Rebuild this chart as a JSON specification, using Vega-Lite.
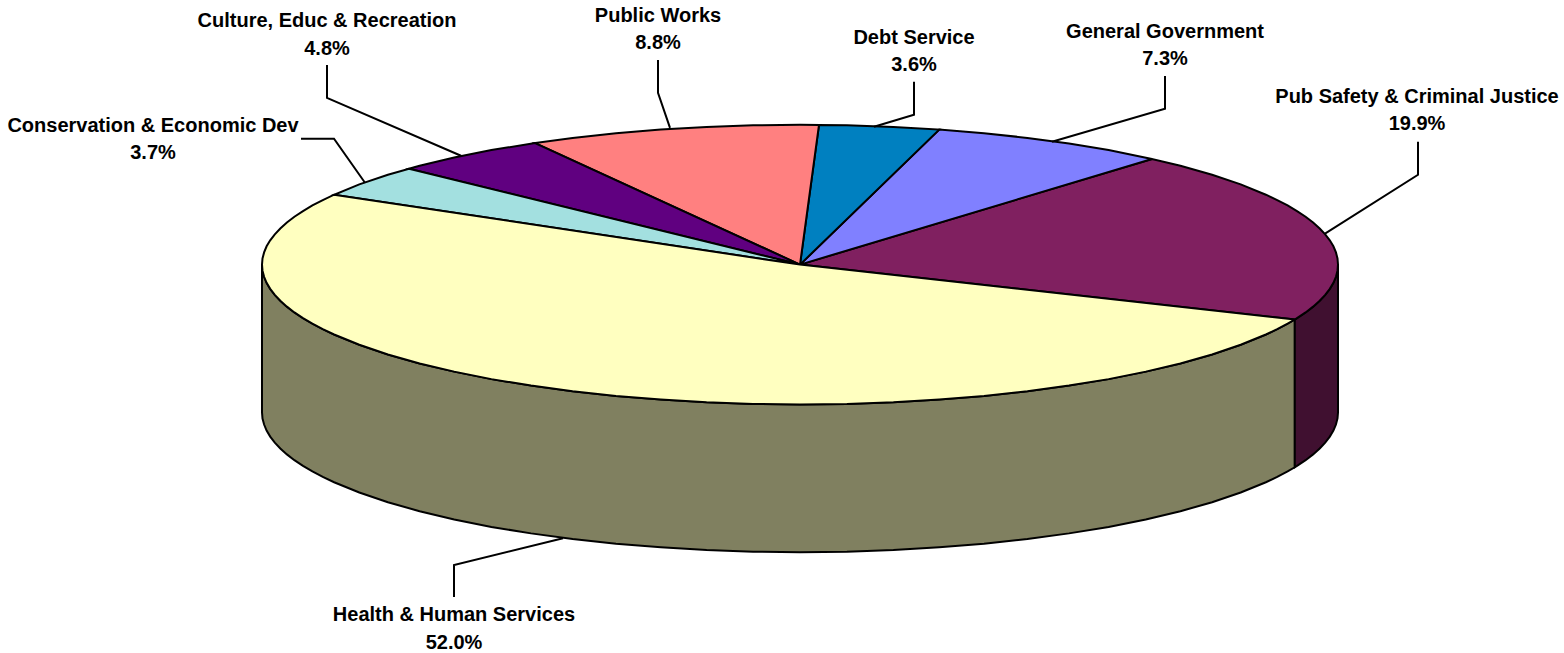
{
"$schema":"https://vega.github.io/schema/vega-lite/v6.json",
"width":1564,"height":653,"padding":0,"autosize":{"type":"fit","contains":"padding"},"background":"white",
"config":{"view":{"stroke":null}},
"resolve":{"scale":{"fill":"independent"}},
"datasets":{
"walls":[
{"side":"Health & Human Services","x":262,"top":265,"bottom":413},
{"side":"Health & Human Services","x":262.5,"top":271.1,"bottom":419.1},
{"side":"Health & Human Services","x":264.1,"top":277.2,"bottom":425.2},
{"side":"Health & Human Services","x":266.6,"top":283.3,"bottom":431.3},
{"side":"Health & Human Services","x":270.2,"top":289.3,"bottom":437.3},
{"side":"Health & Human Services","x":274.8,"top":295.3,"bottom":443.3},
{"side":"Health & Human Services","x":280.3,"top":301.2,"bottom":449.2},
{"side":"Health & Human Services","x":286.9,"top":307.1,"bottom":455.1},
{"side":"Health & Human Services","x":294.4,"top":312.9,"bottom":460.9},
{"side":"Health & Human Services","x":303,"top":318.6,"bottom":466.6},
{"side":"Health & Human Services","x":312.4,"top":324.2,"bottom":472.2},
{"side":"Health & Human Services","x":322.8,"top":329.6,"bottom":477.6},
{"side":"Health & Human Services","x":334.1,"top":335,"bottom":483},
{"side":"Health & Human Services","x":359.3,"top":345.3,"bottom":493.3},
{"side":"Health & Human Services","x":387.9,"top":355,"bottom":503},
{"side":"Health & Human Services","x":419.6,"top":364,"bottom":512},
{"side":"Health & Human Services","x":454.2,"top":372.2,"bottom":520.2},
{"side":"Health & Human Services","x":491.4,"top":379.7,"bottom":527.7},
{"side":"Health & Human Services","x":531,"top":386.2,"bottom":534.2},
{"side":"Health & Human Services","x":572.6,"top":391.9,"bottom":539.9},
{"side":"Health & Human Services","x":616,"top":396.6,"bottom":544.6},
{"side":"Health & Human Services","x":660.8,"top":400.2,"bottom":548.2},
{"side":"Health & Human Services","x":706.6,"top":402.9,"bottom":550.9},
{"side":"Health & Human Services","x":753.1,"top":404.5,"bottom":552.5},
{"side":"Health & Human Services","x":800,"top":405,"bottom":553},
{"side":"Health & Human Services","x":846.9,"top":404.5,"bottom":552.5},
{"side":"Health & Human Services","x":893.4,"top":402.9,"bottom":550.9},
{"side":"Health & Human Services","x":939.2,"top":400.2,"bottom":548.2},
{"side":"Health & Human Services","x":984,"top":396.6,"bottom":544.6},
{"side":"Health & Human Services","x":1027.4,"top":391.9,"bottom":539.9},
{"side":"Health & Human Services","x":1069,"top":386.2,"bottom":534.2},
{"side":"Health & Human Services","x":1108.6,"top":379.7,"bottom":527.7},
{"side":"Health & Human Services","x":1145.8,"top":372.2,"bottom":520.2},
{"side":"Health & Human Services","x":1180.4,"top":364,"bottom":512},
{"side":"Health & Human Services","x":1212.1,"top":355,"bottom":503},
{"side":"Health & Human Services","x":1240.7,"top":345.3,"bottom":493.3},
{"side":"Health & Human Services","x":1265.9,"top":335,"bottom":483},
{"side":"Health & Human Services","x":1277.2,"top":329.6,"bottom":477.6},
{"side":"Health & Human Services","x":1287.6,"top":324.2,"bottom":472.2},
{"side":"Health & Human Services","x":1294.8,"top":320,"bottom":468},
{"side":"Pub Safety & Criminal Justice","x":1294.8,"top":320,"bottom":468},
{"side":"Pub Safety & Criminal Justice","x":1297,"top":318.6,"bottom":466.6},
{"side":"Pub Safety & Criminal Justice","x":1305.6,"top":312.9,"bottom":460.9},
{"side":"Pub Safety & Criminal Justice","x":1313.1,"top":307.1,"bottom":455.1},
{"side":"Pub Safety & Criminal Justice","x":1319.7,"top":301.2,"bottom":449.2},
{"side":"Pub Safety & Criminal Justice","x":1325.2,"top":295.3,"bottom":443.3},
{"side":"Pub Safety & Criminal Justice","x":1329.8,"top":289.3,"bottom":437.3},
{"side":"Pub Safety & Criminal Justice","x":1333.4,"top":283.3,"bottom":431.3},
{"side":"Pub Safety & Criminal Justice","x":1335.95,"top":277.2,"bottom":425.2},
{"side":"Pub Safety & Criminal Justice","x":1337.5,"top":271.1,"bottom":419.1},
{"side":"Pub Safety & Criminal Justice","x":1338,"top":265,"bottom":413}
],
"slices":[
{"slice":"Pub Safety & Criminal Justice","i":0,"x":800,"y":265},
{"slice":"Pub Safety & Criminal Justice","i":1,"x":1294.8,"y":320},
{"slice":"Pub Safety & Criminal Justice","i":1.5,"x":1297,"y":318.6},
{"slice":"Pub Safety & Criminal Justice","i":2,"x":1305.6,"y":312.9},
{"slice":"Pub Safety & Criminal Justice","i":2.5,"x":1313.1,"y":307.1},
{"slice":"Pub Safety & Criminal Justice","i":3,"x":1319.7,"y":301.2},
{"slice":"Pub Safety & Criminal Justice","i":3.5,"x":1325.2,"y":295.3},
{"slice":"Pub Safety & Criminal Justice","i":4,"x":1329.8,"y":289.3},
{"slice":"Pub Safety & Criminal Justice","i":4.5,"x":1333.4,"y":283.3},
{"slice":"Pub Safety & Criminal Justice","i":5,"x":1335.95,"y":277.2},
{"slice":"Pub Safety & Criminal Justice","i":5.5,"x":1337.5,"y":271.1},
{"slice":"Pub Safety & Criminal Justice","i":6,"x":1338,"y":265},
{"slice":"Pub Safety & Criminal Justice","i":6.5,"x":1337.5,"y":258.9},
{"slice":"Pub Safety & Criminal Justice","i":7,"x":1335.95,"y":252.8},
{"slice":"Pub Safety & Criminal Justice","i":7.5,"x":1333.4,"y":246.7},
{"slice":"Pub Safety & Criminal Justice","i":8,"x":1329.8,"y":240.7},
{"slice":"Pub Safety & Criminal Justice","i":8.5,"x":1325.2,"y":234.7},
{"slice":"Pub Safety & Criminal Justice","i":9,"x":1319.7,"y":228.8},
{"slice":"Pub Safety & Criminal Justice","i":9.5,"x":1313.1,"y":222.9},
{"slice":"Pub Safety & Criminal Justice","i":10,"x":1305.6,"y":217.1},
{"slice":"Pub Safety & Criminal Justice","i":10.5,"x":1297,"y":211.4},
{"slice":"Pub Safety & Criminal Justice","i":11,"x":1287.6,"y":205.8},
{"slice":"Pub Safety & Criminal Justice","i":11.5,"x":1277.2,"y":200.4},
{"slice":"Pub Safety & Criminal Justice","i":12,"x":1265.9,"y":195},
{"slice":"Pub Safety & Criminal Justice","i":13,"x":1240.7,"y":184.7},
{"slice":"Pub Safety & Criminal Justice","i":14,"x":1212.1,"y":175},
{"slice":"Pub Safety & Criminal Justice","i":15,"x":1180.4,"y":166},
{"slice":"Pub Safety & Criminal Justice","i":16,"x":1152,"y":159.2},
{"slice":"General Government","i":0,"x":800,"y":265},
{"slice":"General Government","i":1,"x":1152,"y":159.2},
{"slice":"General Government","i":2,"x":1108.6,"y":150.3},
{"slice":"General Government","i":3,"x":1069,"y":143.8},
{"slice":"General Government","i":4,"x":1027.4,"y":138.1},
{"slice":"General Government","i":5,"x":984,"y":133.4},
{"slice":"General Government","i":6,"x":939.2,"y":129.8},
{"slice":"Debt Service","i":0,"x":800,"y":265},
{"slice":"Debt Service","i":1,"x":939.2,"y":129.8},
{"slice":"Debt Service","i":2,"x":893.4,"y":127.1},
{"slice":"Debt Service","i":3,"x":846.9,"y":125.5},
{"slice":"Debt Service","i":4,"x":819,"y":125.1},
{"slice":"Public Works","i":0,"x":800,"y":265},
{"slice":"Public Works","i":1,"x":819,"y":125.1},
{"slice":"Public Works","i":2,"x":800,"y":125},
{"slice":"Public Works","i":3,"x":753.1,"y":125.5},
{"slice":"Public Works","i":4,"x":706.6,"y":127.1},
{"slice":"Public Works","i":5,"x":660.8,"y":129.8},
{"slice":"Public Works","i":6,"x":616,"y":133.4},
{"slice":"Public Works","i":7,"x":572.6,"y":138.1},
{"slice":"Public Works","i":8,"x":535,"y":143.3},
{"slice":"Culture, Educ & Recreation","i":0,"x":800,"y":265},
{"slice":"Culture, Educ & Recreation","i":1,"x":535,"y":143.3},
{"slice":"Culture, Educ & Recreation","i":2,"x":491.4,"y":150.3},
{"slice":"Culture, Educ & Recreation","i":3,"x":454.2,"y":157.8},
{"slice":"Culture, Educ & Recreation","i":4,"x":419.6,"y":166},
{"slice":"Culture, Educ & Recreation","i":5,"x":409,"y":169},
{"slice":"Conservation & Economic Dev","i":0,"x":800,"y":265},
{"slice":"Conservation & Economic Dev","i":1,"x":409,"y":169},
{"slice":"Conservation & Economic Dev","i":2,"x":387.9,"y":175},
{"slice":"Conservation & Economic Dev","i":3,"x":359.3,"y":184.7},
{"slice":"Conservation & Economic Dev","i":4,"x":334.1,"y":195},
{"slice":"Health & Human Services","i":0,"x":800,"y":265},
{"slice":"Health & Human Services","i":1,"x":334.1,"y":195},
{"slice":"Health & Human Services","i":1.5,"x":322.8,"y":200.4},
{"slice":"Health & Human Services","i":2,"x":312.4,"y":205.8},
{"slice":"Health & Human Services","i":2.5,"x":303,"y":211.4},
{"slice":"Health & Human Services","i":3,"x":294.4,"y":217.1},
{"slice":"Health & Human Services","i":3.5,"x":286.9,"y":222.9},
{"slice":"Health & Human Services","i":4,"x":280.3,"y":228.8},
{"slice":"Health & Human Services","i":4.5,"x":274.8,"y":234.7},
{"slice":"Health & Human Services","i":5,"x":270.2,"y":240.7},
{"slice":"Health & Human Services","i":5.5,"x":266.6,"y":246.7},
{"slice":"Health & Human Services","i":6,"x":264.1,"y":252.8},
{"slice":"Health & Human Services","i":6.5,"x":262.5,"y":258.9},
{"slice":"Health & Human Services","i":7,"x":262,"y":265},
{"slice":"Health & Human Services","i":7.5,"x":262.5,"y":271.1},
{"slice":"Health & Human Services","i":8,"x":264.1,"y":277.2},
{"slice":"Health & Human Services","i":8.5,"x":266.6,"y":283.3},
{"slice":"Health & Human Services","i":9,"x":270.2,"y":289.3},
{"slice":"Health & Human Services","i":9.5,"x":274.8,"y":295.3},
{"slice":"Health & Human Services","i":10,"x":280.3,"y":301.2},
{"slice":"Health & Human Services","i":10.5,"x":286.9,"y":307.1},
{"slice":"Health & Human Services","i":11,"x":294.4,"y":312.9},
{"slice":"Health & Human Services","i":11.5,"x":303,"y":318.6},
{"slice":"Health & Human Services","i":12,"x":312.4,"y":324.2},
{"slice":"Health & Human Services","i":12.5,"x":322.8,"y":329.6},
{"slice":"Health & Human Services","i":13,"x":334.1,"y":335},
{"slice":"Health & Human Services","i":14,"x":359.3,"y":345.3},
{"slice":"Health & Human Services","i":15,"x":387.9,"y":355},
{"slice":"Health & Human Services","i":16,"x":419.6,"y":364},
{"slice":"Health & Human Services","i":17,"x":454.2,"y":372.2},
{"slice":"Health & Human Services","i":18,"x":491.4,"y":379.7},
{"slice":"Health & Human Services","i":19,"x":531,"y":386.2},
{"slice":"Health & Human Services","i":20,"x":572.6,"y":391.9},
{"slice":"Health & Human Services","i":21,"x":616,"y":396.6},
{"slice":"Health & Human Services","i":22,"x":660.8,"y":400.2},
{"slice":"Health & Human Services","i":23,"x":706.6,"y":402.9},
{"slice":"Health & Human Services","i":24,"x":753.1,"y":404.5},
{"slice":"Health & Human Services","i":25,"x":800,"y":405},
{"slice":"Health & Human Services","i":26,"x":846.9,"y":404.5},
{"slice":"Health & Human Services","i":27,"x":893.4,"y":402.9},
{"slice":"Health & Human Services","i":28,"x":939.2,"y":400.2},
{"slice":"Health & Human Services","i":29,"x":984,"y":396.6},
{"slice":"Health & Human Services","i":30,"x":1027.4,"y":391.9},
{"slice":"Health & Human Services","i":31,"x":1069,"y":386.2},
{"slice":"Health & Human Services","i":32,"x":1108.6,"y":379.7},
{"slice":"Health & Human Services","i":33,"x":1145.8,"y":372.2},
{"slice":"Health & Human Services","i":34,"x":1180.4,"y":364},
{"slice":"Health & Human Services","i":35,"x":1212.1,"y":355},
{"slice":"Health & Human Services","i":36,"x":1240.7,"y":345.3},
{"slice":"Health & Human Services","i":37,"x":1265.9,"y":335},
{"slice":"Health & Human Services","i":37.5,"x":1277.2,"y":329.6},
{"slice":"Health & Human Services","i":38,"x":1287.6,"y":324.2},
{"slice":"Health & Human Services","i":39,"x":1294.8,"y":320}
],
"leaders":[
{"slice":"Health & Human Services","i":0,"x":563,"y":539},
{"slice":"Health & Human Services","i":1,"x":454,"y":566},
{"slice":"Health & Human Services","i":2,"x":454,"y":598},
{"slice":"Pub Safety & Criminal Justice","i":0,"x":1325,"y":234},
{"slice":"Pub Safety & Criminal Justice","i":1,"x":1418,"y":175},
{"slice":"Pub Safety & Criminal Justice","i":2,"x":1418,"y":142},
{"slice":"General Government","i":0,"x":1052,"y":142},
{"slice":"General Government","i":1,"x":1165,"y":109},
{"slice":"General Government","i":2,"x":1165,"y":76},
{"slice":"Debt Service","i":0,"x":874,"y":127},
{"slice":"Debt Service","i":1,"x":914,"y":115},
{"slice":"Debt Service","i":2,"x":914,"y":82},
{"slice":"Public Works","i":0,"x":670,"y":128},
{"slice":"Public Works","i":1,"x":658,"y":93},
{"slice":"Public Works","i":2,"x":658,"y":60},
{"slice":"Culture, Educ & Recreation","i":0,"x":461,"y":156},
{"slice":"Culture, Educ & Recreation","i":1,"x":327,"y":98},
{"slice":"Culture, Educ & Recreation","i":2,"x":327,"y":65},
{"slice":"Conservation & Economic Dev","i":0,"x":365,"y":183},
{"slice":"Conservation & Economic Dev","i":1,"x":334,"y":139},
{"slice":"Conservation & Economic Dev","i":2,"x":301,"y":139}
],
"labels":[
{"slice":"Health & Human Services","share":"52.0%","x":454,"y":616,"y2":644},
{"slice":"Pub Safety & Criminal Justice","share":"19.9%","x":1417,"y":97,"y2":124},
{"slice":"General Government","share":"7.3%","x":1165,"y":32,"y2":59},
{"slice":"Debt Service","share":"3.6%","x":914,"y":38,"y2":65},
{"slice":"Public Works","share":"8.8%","x":658,"y":16,"y2":43},
{"slice":"Culture, Educ & Recreation","share":"4.8%","x":327,"y":21,"y2":49},
{"slice":"Conservation & Economic Dev","share":"3.7%","x":153,"y":126,"y2":153}
]
},
"layer":[
{"data":{"name":"walls"},
 "mark":{"type":"area","stroke":"black","strokeWidth":2,"interpolate":"linear"},
 "encoding":{
  "x":{"field":"x","type":"quantitative","scale":{"domain":[0,1564],"nice":false,"zero":false},"axis":null},
  "y":{"field":"top","type":"quantitative","scale":{"domain":[653,0],"nice":false,"zero":false},"axis":null},
  "y2":{"field":"bottom"},
  "detail":{"field":"side"},
  "fill":{"field":"side","type":"nominal","legend":null,"scale":{"domain":["Health & Human Services","Pub Safety & Criminal Justice"],"range":["#808060","#401030"]}}
 }},
{"data":{"name":"slices"},
 "mark":{"type":"line","stroke":"black","strokeWidth":2,"interpolate":"linear-closed","filled":true},
 "encoding":{
  "x":{"field":"x","type":"quantitative","scale":{"domain":[0,1564],"nice":false,"zero":false},"axis":null},
  "y":{"field":"y","type":"quantitative","scale":{"domain":[653,0],"nice":false,"zero":false},"axis":null},
  "order":{"field":"i","type":"quantitative"},
  "detail":{"field":"slice"},
  "fill":{"field":"slice","type":"nominal","legend":null,"scale":{"domain":["Pub Safety & Criminal Justice","General Government","Debt Service","Public Works","Culture, Educ & Recreation","Conservation & Economic Dev","Health & Human Services"],"range":["#802060","#8080FF","#0080C0","#FF8080","#600080","#A3E0E0","#FFFFC0"]}}
 }},
{"data":{"name":"leaders"},
 "mark":{"type":"line","stroke":"black","strokeWidth":2},
 "encoding":{
  "x":{"field":"x","type":"quantitative","scale":{"domain":[0,1564],"nice":false,"zero":false},"axis":null},
  "y":{"field":"y","type":"quantitative","scale":{"domain":[653,0],"nice":false,"zero":false},"axis":null},
  "order":{"field":"i","type":"quantitative"},
  "detail":{"field":"slice"}
 }},
{"data":{"name":"labels"},
 "mark":{"type":"text","font":"Liberation Sans","fontWeight":"bold","fontSize":20,"color":"black","align":"center","baseline":"middle"},
 "encoding":{
  "x":{"field":"x","type":"quantitative","scale":{"domain":[0,1564],"nice":false,"zero":false},"axis":null},
  "y":{"field":"y","type":"quantitative","scale":{"domain":[653,0],"nice":false,"zero":false},"axis":null},
  "text":{"field":"slice"}
 }},
{"data":{"name":"labels"},
 "mark":{"type":"text","font":"Liberation Sans","fontWeight":"bold","fontSize":20,"color":"black","align":"center","baseline":"middle"},
 "encoding":{
  "x":{"field":"x","type":"quantitative","scale":{"domain":[0,1564],"nice":false,"zero":false},"axis":null},
  "y":{"field":"y2","type":"quantitative","scale":{"domain":[653,0],"nice":false,"zero":false},"axis":null},
  "text":{"field":"share"}
 }}
]
}
